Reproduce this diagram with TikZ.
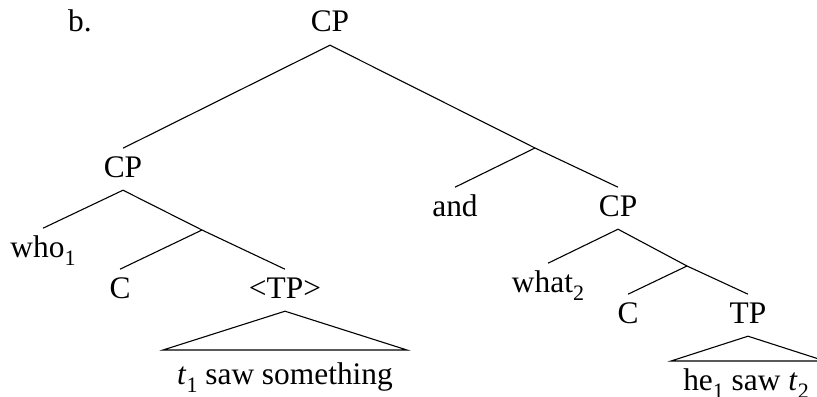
\documentclass[tikz,border=0pt]{standalone}
\usepackage{fontspec}
\setmainfont{Liberation Serif}
\newcommand\sbs[1]{\raisebox{-0.27em}{\fontsize{11pt}{12pt}\selectfont #1}}
\begin{document}
\begin{tikzpicture}[x=0.5pt,y=-0.5pt,
  lbl/.style={anchor=base, inner sep=2.6pt, text height=11.6pt, text depth=3.8pt,
    font=\fontsize{15.7pt}{18pt}\selectfont},
  leaf/.style={anchor=base, inner sep=0pt, font=\fontsize{15.7pt}{18pt}\selectfont},
  edge/.style={line width=0.55pt}]
\clip (0,0) rectangle (817,396);
% labels
\node[leaf] (b) at (80,31) {b.};
\node[lbl] (cp0) at (330,32) {CP};
\node[lbl] (cpL) at (123,177) {CP};
\node[lbl] (and) at (455,216) {and};
\node[lbl] (cpR) at (618,216) {CP};
\node[lbl] (who) at (43,257) {who\sbs{1}};
\node[lbl] (cL) at (120,298) {C};
\node[lbl] (tpL) at (285,298) {<TP>};
\node[lbl] (what) at (548,292) {what\sbs{2}};
\node[lbl] (cR) at (628,323) {C};
\node[lbl] (tpR) at (748,323) {TP};
% junctions
\coordinate (j0) at (535,148);
\coordinate (jL) at (202,230);
\coordinate (jR) at (687,266);
% triangle corners
\coordinate (tLa) at (163,350);
\coordinate (tLb) at (407,350);
\coordinate (tRa) at (671,361);
\coordinate (tRb) at (825,361);
% leaves
\node[leaf] (sL) at (285,384) {\textit{t}\sbs{1} saw something};
\node[leaf] (sR) at (746,390) {he\sbs{1} saw \textit{t}\sbs{2}};
% edges
\draw[edge] (cp0.south) -- (cpL.north);
\draw[edge] (cp0.south) -- (j0);
\draw[edge] (j0) -- (and.north);
\draw[edge] (j0) -- (cpR.north);
\draw[edge] (cpL.south) -- (who.north);
\draw[edge] (cpL.south) -- (jL);
\draw[edge] (jL) -- (cL.north);
\draw[edge] (jL) -- (tpL.north);
\draw[edge] (cpR.south) -- (what.north);
\draw[edge] (cpR.south) -- (jR);
\draw[edge] (jR) -- (cR.north);
\draw[edge] (jR) -- (tpR.north);
\draw[edge] (tpL.south) -- (tLa) -- (tLb) -- cycle;
\draw[edge] (tpR.south) -- (tRa) -- (tRb) -- cycle;
\end{tikzpicture}
\end{document}
